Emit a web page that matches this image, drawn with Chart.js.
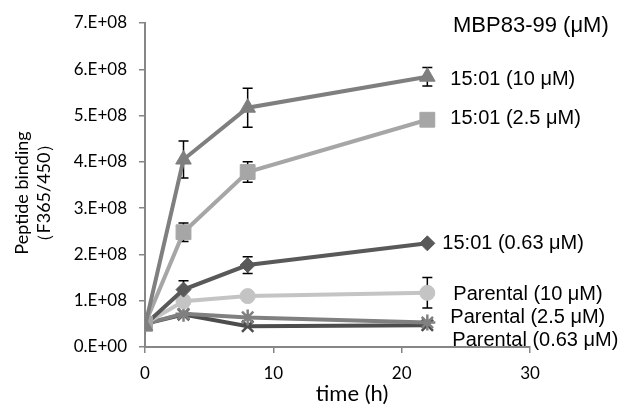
<!DOCTYPE html>
<html>
<head>
<meta charset="utf-8">
<script src="https://cdn.jsdelivr.net/npm/chart.js@4"></script>
<style>
  html, body { margin: 0; padding: 0; background: #fff; }
  #wrap { width: 624px; height: 408px; }
</style>
</head>
<body>
<div id="wrap"><canvas id="chart" width="624" height="408"></canvas></div>
<script>
// time points (h)
const timePoints = [0, 3, 8, 22];

// series names, as labelled on the right of the plot
const seriesNames = [
  '15:01 (10 μM)',
  '15:01 (2.5 μM)',
  '15:01 (0.63 μM)',
  'Parental (10 μM)',
  'Parental (2.5 μM)',
  'Parental (0.63 μM)'
];

// peptide binding (F365/450)
const clone10 = [0.45e8, 4.05e8, 5.17e8, 5.84e8];
const clone25 = [0.50e8, 2.48e8, 3.78e8, 4.91e8];
const clone063 = [0.48e8, 1.24e8, 1.77e8, 2.24e8];
const parent10 = [0.50e8, 0.99e8, 1.10e8, 1.17e8];
const parent25 = [0.50e8, 0.72e8, 0.64e8, 0.53e8];
const parent063 = [0.50e8, 0.70e8, 0.45e8, 0.47e8];

// error bar half-heights
const clone10Err = [0, 0.40e8, 0.42e8, 0.20e8];
const clone25Err = [0, 0.20e8, 0.22e8, 0];
const clone063Err = [0, 0.19e8, 0.18e8, 0];
const parent10Err = [0, 0, 0, 0.33e8];

const xTicks = [0, 10, 20, 30];
const yMax = 7e8;
const chartTitle = 'MBP83-99 (μM)';
const xTitle = 'time (h)';
const yTitle = ['Peptide binding', '（F365/450）'];

const tickFont = 'Lato, "Noto Sans", sans-serif';
const labelFont = '"Liberation Sans", Arial, sans-serif';

function series(name, values, errs, color, style, radius) {
  const filled = style !== 'star' && style !== 'crossRot';
  return {
    label: name,
    data: values.map((v, i) => ({ x: timePoints[i], y: v })),
    errors: errs,
    borderColor: color,
    backgroundColor: color,
    borderWidth: 4,
    pointStyle: style,
    pointRadius: radius,
    pointBackgroundColor: color,
    pointBorderColor: color,
    pointBorderWidth: filled ? 1 : 2.5,
    tension: 0
  };
}

const datasets = [
  series(seriesNames[0], clone10, clone10Err, '#7f7f7f', 'triangle', 9),
  series(seriesNames[1], clone25, clone25Err, '#a6a6a6', 'rect', 10.5),
  series(seriesNames[2], clone063, clone063Err, '#595959', 'rectRot', 7.5),
  series(seriesNames[3], parent10, parent10Err, '#c4c4c4', 'circle', 7.5),
  series(seriesNames[4], parent25, null, '#808080', 'star', 8),
  series(seriesNames[5], parent063, null, '#4d4d4d', 'crossRot', 8)
];

// where each end label sits relative to the last point of its series
const labelOffsets = [
  [23, 3], [23, -1], [15, 0], [26, 2], [23, -5], [25, 15]
];

const errorBars = {
  id: 'errorBars',
  beforeDatasetsDraw(chart) {
    const ctx = chart.ctx;
    const yScale = chart.scales.y;
    ctx.save();
    ctx.strokeStyle = '#000';
    ctx.lineWidth = 1.5;
    chart.data.datasets.forEach((ds, i) => {
      if (!ds.errors) return;
      const meta = chart.getDatasetMeta(i);
      meta.data.forEach((pt, j) => {
        const e = ds.errors[j];
        if (!e) return;
        const v = ds.data[j].y;
        const top = yScale.getPixelForValue(v + e);
        const bot = yScale.getPixelForValue(v - e);
        ctx.beginPath();
        ctx.moveTo(pt.x, top); ctx.lineTo(pt.x, bot);
        ctx.moveTo(pt.x - 5, top); ctx.lineTo(pt.x + 5, top);
        ctx.moveTo(pt.x - 5, bot); ctx.lineTo(pt.x + 5, bot);
        ctx.stroke();
      });
    });
    ctx.restore();
  }
};

const textLayer = {
  id: 'textLayer',
  afterDraw(chart) {
    const ctx = chart.ctx;
    ctx.save();
    ctx.fillStyle = '#000';
    ctx.textBaseline = 'middle';
    ctx.textAlign = 'left';

    // end labels
    ctx.font = '20px ' + labelFont;
    chart.data.datasets.forEach((ds, i) => {
      const meta = chart.getDatasetMeta(i);
      const last = meta.data[meta.data.length - 1];
      const [dx, dy] = labelOffsets[i];
      ctx.fillText(ds.label, last.x + dx, last.y + dy);
    });

    // legend title
    ctx.font = '22px ' + labelFont;
    ctx.fillText(chartTitle, 453, 26);

    // axis titles
    ctx.textAlign = 'center';
    ctx.font = '22px ' + tickFont;
    ctx.fillText(xTitle, 352, 394);

    ctx.font = '18px ' + tickFont;
    ctx.translate(33, 193);
    ctx.rotate(-Math.PI / 2);
    ctx.fillText(yTitle[0], 0, -11);
    ctx.fillText(yTitle[1], 0, 11);
    ctx.restore();
  }
};

new Chart(document.getElementById('chart'), {
  type: 'line',
  data: { datasets },
  options: {
    responsive: false,
    animation: false,
    layout: { padding: { left: 0, right: 94, top: 23, bottom: 0 } },
    plugins: { legend: { display: false }, tooltip: { enabled: false } },
    scales: {
      x: {
        type: 'linear',
        min: 0,
        max: 30,
        afterBuildTicks: s => { s.ticks = xTicks.map(v => ({ value: v })); },
        afterFit: s => { s.height = 61; },
        border: { color: '#868686', width: 2 },
        grid: { drawOnChartArea: false, tickLength: 6, color: '#868686', lineWidth: 1.5 },
        ticks: { color: '#000', padding: 10, font: { family: tickFont, size: 17 } }
      },
      y: {
        min: 0,
        max: yMax,
        ticks: {
          stepSize: 1e8,
          color: '#000',
          padding: 12,
          font: { family: tickFont, size: 17 },
          callback: v => v === 0 ? '0.E+00' : (v / 1e8).toFixed(0) + '.E+08'
        },
        afterFit: s => { s.width = 145; },
        border: { color: '#868686', width: 2 },
        grid: { drawOnChartArea: false, tickLength: 6, color: '#868686', lineWidth: 1.5 }
      }
    }
  },
  plugins: [errorBars, textLayer]
});
</script>
</body>
</html>
